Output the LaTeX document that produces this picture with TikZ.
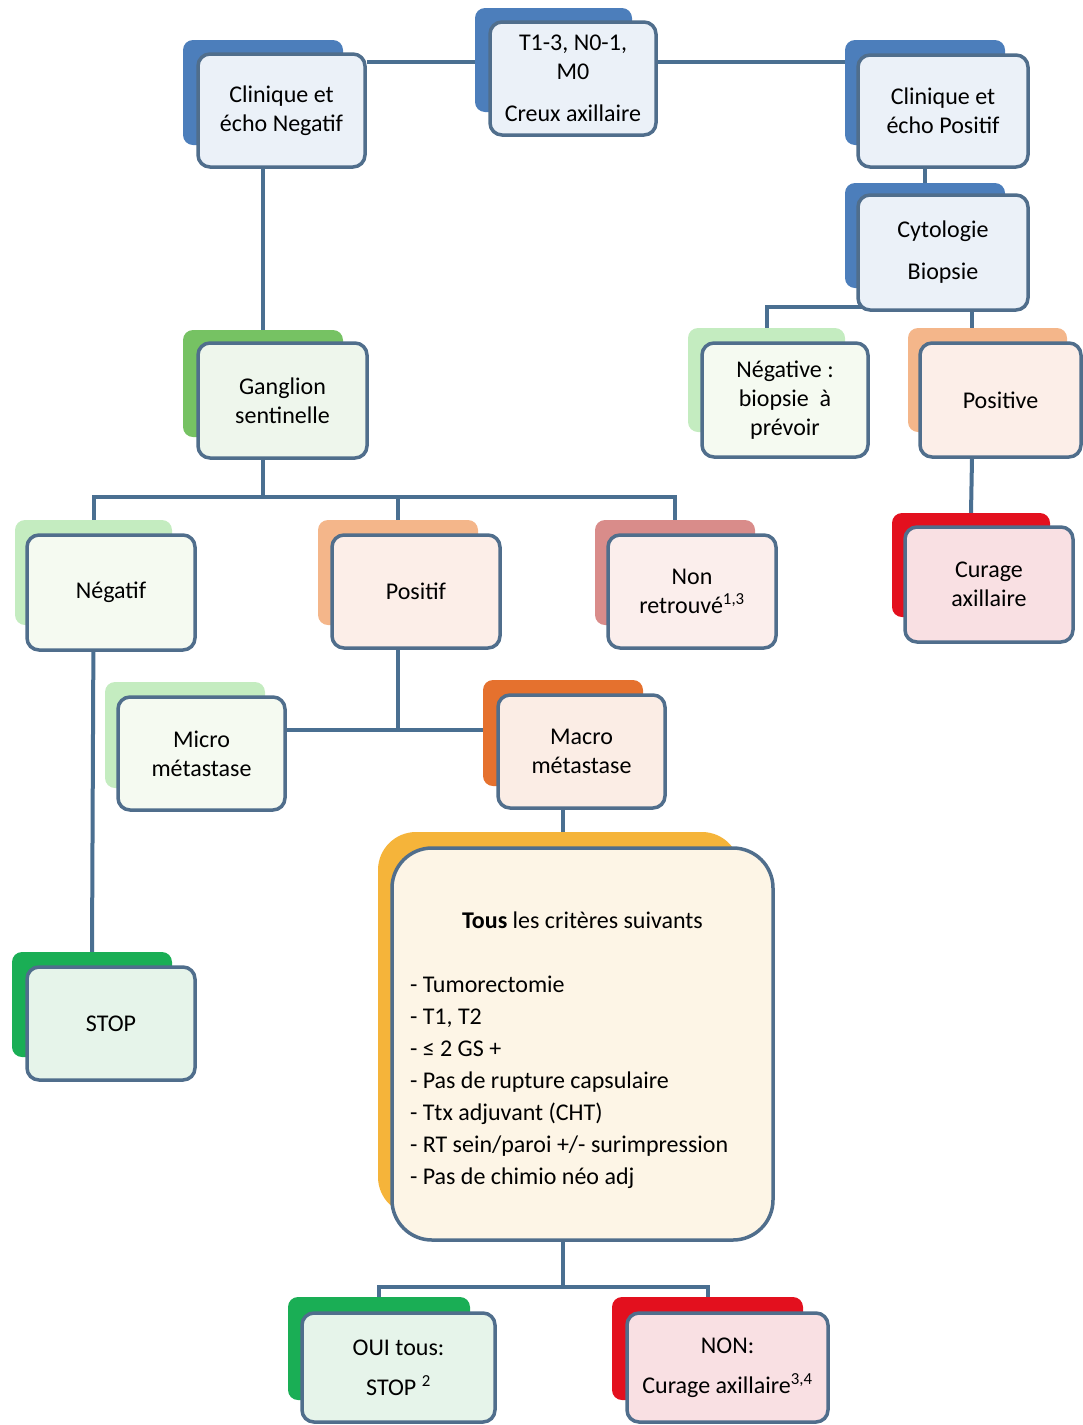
\documentclass[tikz,border=0pt]{standalone}
\usepackage{fontspec}
\setmainfont{Carlito}
\usepackage{tikz}
\usetikzlibrary{calc, backgrounds}

\definecolor{bord}{HTML}{506E8C}
\definecolor{lien}{HTML}{4A6F91}
\definecolor{bleu}{HTML}{4C7EBB}
\definecolor{bleuclair}{HTML}{EBF1F8}
\definecolor{vert}{HTML}{76C263}
\definecolor{vertclair}{HTML}{EEF6EC}
\definecolor{vertpale}{HTML}{C4ECC0}
\definecolor{vertpaleclair}{HTML}{F5FAF1}
\definecolor{peche}{HTML}{F4B68A}
\definecolor{pecheclair}{HTML}{FCEEE8}
\definecolor{rose}{HTML}{D98C8A}
\definecolor{roseclair}{HTML}{FBEEEC}
\definecolor{orange}{HTML}{E5712E}
\definecolor{orangeclair}{HTML}{FBEDE5}
\definecolor{jaune}{HTML}{F5B43A}
\definecolor{jauneclair}{HTML}{FDF5E6}
\definecolor{vertfonce}{HTML}{1AAE55}
\definecolor{vertfonceclair}{HTML}{E6F4EA}
\definecolor{rouge}{HTML}{E3101E}
\definecolor{rougeclair}{HTML}{F9E0E3}

\begin{document}
\begin{tikzpicture}[x=1pt, y=-1pt,
    dos/.style={fill=#1, rounded corners=10pt, inner sep=0pt},
    face/.style={fill=#1, draw=bord, line width=3.5pt, rounded corners=12pt,
        inner sep=0pt, align=center, font=\fontsize{24}{29}\selectfont},
    lien/.style={draw=lien, line width=4pt}]
    \useasboundingbox (0,0) rectangle (1083,1425);

    % --- Creux axillaire ---
    \node[dos=bleu, minimum width=157pt, minimum height=104pt] (t13-b) at (553.5,60) {};
    \node[face=bleuclair, minimum width=166pt, minimum height=113pt] (t13) at (573,78.5)
        {T1-3, N0-1,\\M0\\[13pt]Creux axillaire};

    \node[dos=bleu, minimum width=160pt, minimum height=105pt] (cneg-b) at (263,92.5) {};
    \node[face=bleuclair, minimum width=167pt, minimum height=113pt] (cneg) at (281.5,110.5)
        {Clinique et\\écho Negatif};

    \node[dos=bleu, minimum width=160pt, minimum height=105pt] (cpos-b) at (925,92.5) {};
    \node[face=bleuclair, minimum width=170pt, minimum height=112pt] (cpos) at (943,111)
        {Clinique et\\écho Positif};

    \node[dos=bleu, minimum width=160pt, minimum height=105pt] (cyto-b) at (925,235.5) {};
    \node[face=bleuclair, minimum width=170pt, minimum height=115pt] (cyto) at (943,252.5)
        {Cytologie\\[13pt]Biopsie};

    % --- Ganglion sentinelle et cytologie ---
    \node[dos=vert, minimum width=160pt, minimum height=107pt] (gang-b) at (263,383.5) {};
    \node[face=vertclair, minimum width=169pt, minimum height=115pt] (gang) at (282.5,400.5)
        {Ganglion\\sentinelle};

    \node[dos=vertpale, minimum width=157pt, minimum height=104pt] (negbio-b) at (766.5,380) {};
    \node[face=vertpaleclair, minimum width=166pt, minimum height=114pt] (negbio) at (785,400)
        {Négative :\\biopsie \ à\\prévoir};

    \node[dos=peche, minimum width=159pt, minimum height=104pt] (posbio-b) at (987.5,380) {};
    \node[face=pecheclair, minimum width=161pt, minimum height=114pt] (posbio) at (1000.5,400)
        {Positive};

    \node[dos=rouge, minimum width=158pt, minimum height=104pt] (curage-b) at (971,565) {};
    \node[face=rougeclair, minimum width=168pt, minimum height=115pt] (curage) at (989,584.5)
        {Curage\\axillaire};

    % --- Resultat du GS ---
    \node[dos=vertpale, minimum width=157pt, minimum height=105pt] (negatif-b) at (93.5,572.5) {};
    \node[face=vertpaleclair, minimum width=168pt, minimum height=115pt] (negatif) at (111,592.5)
        {Négatif};

    \node[dos=peche, minimum width=160pt, minimum height=105pt] (positif-b) at (398,572.5) {};
    \node[face=pecheclair, minimum width=168pt, minimum height=113pt] (positif) at (416,591.5)
        {Positif};

    \node[dos=rose, minimum width=160pt, minimum height=105pt] (nonret-b) at (675,572.5) {};
    \node[face=roseclair, minimum width=168pt, minimum height=113pt] (nonret) at (692,591.5)
        {Non\\retrouvé\textsuperscript{1,3}};

    \node[dos=vertpale, minimum width=160pt, minimum height=106pt] (micro-b) at (185,735) {};
    \node[face=vertpaleclair, minimum width=167pt, minimum height=113pt] (micro) at (201.5,753.5)
        {Micro\\métastase};

    \node[dos=orange, minimum width=160pt, minimum height=106pt] (macro-b) at (563,733) {};
    \node[face=orangeclair, minimum width=167pt, minimum height=113pt] (macro) at (581.5,751.5)
        {Macro\\métastase};

    \node[dos=vertfonce, minimum width=160pt, minimum height=105pt] (stop-b) at (92,1004.5) {};
    \node[face=vertfonceclair, minimum width=168pt, minimum height=113pt] (stop) at (111,1023.5)
        {STOP};

    % --- Criteres ---
    \node[dos=jaune, rounded corners=38pt, minimum width=362pt, minimum height=383pt] (crit-b) at (559,1023.5) {};
    \node[face=jauneclair, rounded corners=40pt, minimum width=381pt, minimum height=392pt,
        text width=345pt, align=flush left, font=\fontsize{24}{32}\selectfont] (crit) at (582.5,1044)
        {\mbox{}\\[-2pt]
         \makebox[345pt]{\textbf{Tous} les critères suivants}\\[32pt]
         - Tumorectomie\\
         - T1, T2\\
         - ≤ 2 GS +\\
         - Pas de rupture capsulaire\\
         - Ttx adjuvant (CHT)\\
         - RT sein/paroi +/- surimpression\\
         - Pas de chimio néo adj};

    \node[dos=vertfonce, minimum width=182pt, minimum height=103pt] (oui-b) at (379,1348.5) {};
    \node[face=vertfonceclair, minimum width=193pt, minimum height=109pt] (oui) at (398.5,1367.5)
        {OUI tous:\\[11pt]STOP \textsuperscript{2}};

    \node[dos=rouge, minimum width=191pt, minimum height=103pt] (non-b) at (707.5,1348.5) {};
    \node[face=rougeclair, minimum width=201pt, minimum height=109pt] (non) at (727.5,1367.5)
        {NON:\\[11pt]Curage axillaire\textsuperscript{3,4}};

    % --- Liaisons ---
    \begin{scope}[on background layer]
        \coordinate (haut) at (0,62);
        \draw[lien] (haut -| cneg.east) -- (haut -| t13-b.west);
        \draw[lien] (haut -| t13.east) -- (haut -| cpos-b.west);
        \draw[lien] (cneg-b.south) -- (gang-b.north);
        \draw[lien] (cpos-b.south) -- (cyto-b.north);

        \coordinate (vpos) at (972,307);
        \draw[lien] (negbio-b.north) |- (vpos) -- (vpos |- posbio-b.north);
        \draw[lien] (vpos |- posbio.south) -- (curage-b.north);

        \coordinate (bgang) at (0,497);
        \draw[lien] (gang-b.south) -- (gang-b.south |- bgang);
        \draw[lien] (negatif-b.north) |- (bgang -| nonret-b.north) -- (nonret-b.north);
        \draw[lien] (positif-b.north) -- (positif-b.north |- bgang);

        \draw[lien] (negatif-b.south) -- (stop-b.north);

        \coordinate (bpos) at (0,730);
        \draw[lien] (positif-b.south) -- (positif-b.south |- bpos);
        \draw[lien] (micro.east |- bpos) -- (macro-b.west |- bpos);

        \draw[lien] (macro-b.south) -- (macro-b.south |- crit-b.north);

        \coordinate (bcrit) at (0,1287);
        \draw[lien] (macro-b.south |- crit.south) -- (macro-b.south |- bcrit);
        \draw[lien] (oui-b.north) |- (bcrit -| non-b.north) -- (non-b.north);
    \end{scope}
\end{tikzpicture}
\end{document}
